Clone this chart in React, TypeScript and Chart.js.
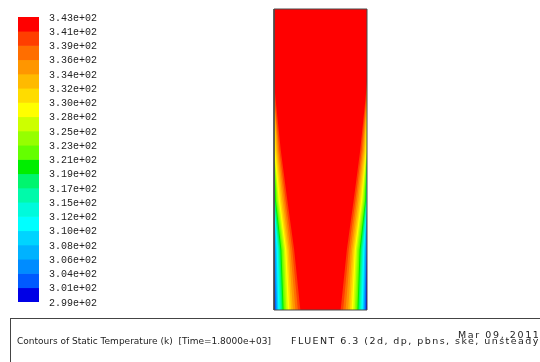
import React, { useEffect, useRef } from 'react';
import { Chart, registerables } from 'chart.js';

Chart.register(...registerables);

// ---- Colour legend (static temperature, K) ----
const levelLabels = [
  '3.43e+02', '3.41e+02', '3.39e+02', '3.36e+02', '3.34e+02', '3.32e+02', '3.30e+02',
  '3.28e+02', '3.25e+02', '3.23e+02', '3.21e+02', '3.19e+02', '3.17e+02', '3.15e+02',
  '3.12e+02', '3.10e+02', '3.08e+02', '3.06e+02', '3.04e+02', '3.01e+02', '2.99e+02',
];
const levelValues = [
  343.1, 340.9, 338.7, 336.5, 334.3, 332.1, 329.9, 327.7, 325.5, 323.3, 321.1,
  318.9, 316.7, 314.5, 312.3, 310.1, 307.9, 305.7, 303.5, 301.3, 299.1,
];
// band colours, hottest (top) to coldest (bottom)
const bandColors = [
  'rgb(255,0,0)', 'rgb(255,62,0)', 'rgb(255,110,0)', 'rgb(255,150,0)', 'rgb(255,186,0)',
  'rgb(255,220,0)', 'rgb(255,255,0)', 'rgb(205,255,0)', 'rgb(150,255,0)', 'rgb(100,255,0)',
  'rgb(0,238,0)', 'rgb(0,245,110)', 'rgb(0,250,170)', 'rgb(0,250,220)', 'rgb(0,255,255)',
  'rgb(0,212,255)', 'rgb(0,178,255)', 'rgb(0,140,255)', 'rgb(0,90,255)', 'rgb(0,0,230)',
];

// ---- Contour field: domain (mm) and isotherm positions ----
const domainWidth = 300;
const domainHeight = 1000;
// heights (mm from bottom) of the stations where isotherms were read
const stationHeights = [1000, 760, 700, 530, 365, 200, 0];
// distance (mm) from the wall of isotherms 1..19 (boundary between band k-1 and k)
const offsetsAt1000 = [0, 0, 0, 0, 0, 0, 0, 0, 0, 0, 0, 0, 0, 0, 0, 0, 0, 0, 0];
const offsetsAt760 = [0, 0, 0, 0, 0, 0, 0, 0, 0, 0, 0, 0, 0, 0, 0, 0, 0, 0, 0];
const offsetsAt700 = [5, 2.8, 1.2, 0, 0, 0, 0, 0, 0, 0, 0, 0, 0, 0, 0, 0, 0, 0, 0];
const offsetsAt530 = [22, 17.5, 13.5, 10, 7, 4, 1.8, 0.5, 0, 0, 0, 0, 0, 0, 0, 0, 0, 0, 0];
const offsetsAt365 = [43, 37.5, 32.6, 27.7, 23, 19, 15.5, 12, 9, 6, 3.5, 1.5, 0.3, 0, 0, 0, 0, 0, 0];
const offsetsAt200 = [65, 59, 53, 48, 43.5, 39.5, 36, 32, 28, 24, 20.5, 17, 14.2, 11.4, 8.8, 6.2, 3.9, 1.8, 0.3];
const offsetsAt0 = [85, 77, 69, 61, 55, 49.5, 44.5, 39.5, 35, 31, 27.5, 24, 20.5, 17.3, 14, 11, 8.5, 5.9, 3.3];

const offsetTable = [offsetsAt1000, offsetsAt760, offsetsAt700, offsetsAt530, offsetsAt365, offsetsAt200, offsetsAt0];

function ColorBar() {
  const ref = useRef<HTMLCanvasElement>(null);
  useEffect(() => {
    const chart = new Chart(ref.current!, {
      type: 'bar',
      data: {
        labels: ['T'],
        datasets: bandColors.map((c, i) => ({
          data: [[levelValues[i + 1], levelValues[i]]] as any,
          backgroundColor: c,
          borderWidth: 0,
          grouped: false,
          barPercentage: 1,
          categoryPercentage: 1,
        })),
      },
      options: {
        responsive: false,
        animation: false,
        layout: { padding: { left: 18, top: 17, bottom: 18, right: 0 } },
        plugins: { legend: { display: false }, tooltip: { enabled: false } },
        scales: {
          x: { display: false },
          y: {
            position: 'right',
            min: 299.1,
            max: 343.1,
            grid: { display: false, drawTicks: false },
            border: { display: false },
            afterBuildTicks: (axis: any) => {
              axis.ticks = levelValues.map((v) => ({ value: v }));
            },
            afterFit: (axis: any) => {
              axis.width = 81;
            },
            ticks: {
              autoSkip: false,
              padding: 10,
              labelOffset: 1,
              color: '#222',
              font: { family: 'Liberation Mono', size: 10 },
              callback: (_v: any, i: number) => levelLabels[i],
            },
          },
        },
      },
    });
    return () => chart.destroy();
  }, []);
  return (
    <canvas
      ref={ref}
      width={120}
      height={320}
      style={{ position: 'absolute', left: 0, top: 0, width: 120, height: 320 }}
    />
  );
}

function Contours() {
  const ref = useRef<HTMLCanvasElement>(null);
  useEffect(() => {
    const regions: any[] = [];
    for (let k = 0; k < 19; k++) {
      const left = stationHeights.map((h, j) => ({ x: offsetTable[j][k], y: h }));
      const right = stationHeights
        .map((h, j) => ({ x: domainWidth - offsetTable[j][k], y: h }))
        .reverse();
      regions.push({
        data: [...left, ...right],
        backgroundColor: bandColors[k],
        borderColor: 'rgba(0,0,0,0)',
        borderWidth: 0,
        pointRadius: 0,
        fill: 'shape',
        tension: 0,
      });
    }
    const full = {
      data: [
        { x: 0, y: domainHeight },
        { x: 0, y: 0 },
        { x: domainWidth, y: 0 },
        { x: domainWidth, y: domainHeight },
      ],
      backgroundColor: bandColors[19],
      borderColor: 'rgba(0,0,0,0)',
      borderWidth: 0,
      pointRadius: 0,
      fill: 'shape',
      tension: 0,
    };
    const outline = {
      data: [
        { x: 0, y: domainHeight },
        { x: 0, y: 0 },
        { x: domainWidth, y: 0 },
        { x: domainWidth, y: domainHeight },
        { x: 0, y: domainHeight },
      ],
      borderColor: '#4a4a4a',
      borderWidth: 1,
      pointRadius: 0,
      fill: false,
      clip: false,
    };
    const chart = new Chart(ref.current!, {
      type: 'line',
      data: { datasets: [outline, ...regions, full] as any },
      options: {
        responsive: false,
        animation: false,
        layout: { padding: { left: 1, right: 1, top: 1, bottom: 1 } },
        plugins: { legend: { display: false }, tooltip: { enabled: false } },
        scales: {
          x: { type: 'linear', min: 0, max: domainWidth, display: false },
          y: { type: 'linear', min: 0, max: domainHeight, display: false },
        },
      },
    });
    return () => chart.destroy();
  }, []);
  return (
    <canvas
      ref={ref}
      width={95}
      height={303}
      style={{ position: 'absolute', left: 273, top: 8, width: 95, height: 303 }}
    />
  );
}

export default function App() {
  const txt: React.CSSProperties = {
    position: 'absolute',
    fontFamily: 'DejaVu Sans',
    fontSize: 9,
    color: '#222',
    whiteSpace: 'nowrap',
    lineHeight: '10px',
  };
  return (
    <div
      style={{
        position: 'fixed',
        left: 0,
        top: 0,
        width: 540,
        height: 362,
        background: '#fff',
        overflow: 'hidden',
      }}
    >
      <ColorBar />
      <Contours />
      <div
        style={{
          position: 'absolute',
          left: 10,
          top: 318,
          width: 560,
          height: 60,
          border: '1px solid #444',
          boxSizing: 'border-box',
        }}
      />
      <div style={{ ...txt, left: 17, top: 336 }}>
        Contours of Static Temperature (k)&nbsp;&nbsp;[Time=1.8000e+03]
      </div>
      <div style={{ ...txt, fontSize: 9.5, left: 458, top: 330, letterSpacing: 1.6 }}>Mar 09, 2011</div>
      <div style={{ ...txt, fontSize: 9.5, left: 291, top: 336, letterSpacing: 1.45 }}>
        FLUENT 6.3 (2d, dp, pbns, ske, unsteady)
      </div>
    </div>
  );
}
